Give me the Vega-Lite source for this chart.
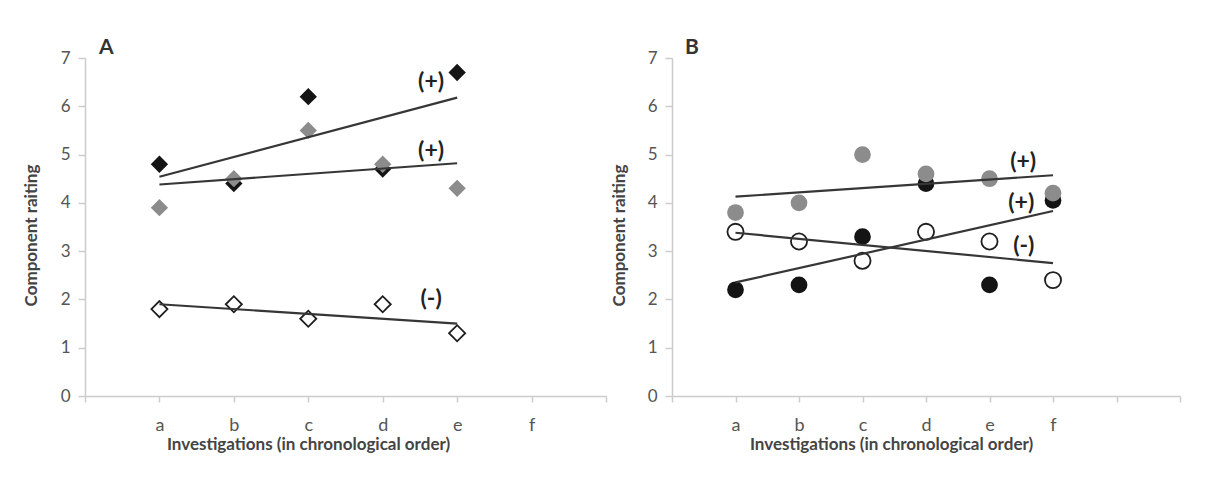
{
  "$schema": "https://vega.github.io/schema/vega-lite/v6.json",
  "background": "white",
  "padding": {"left": 22, "top": 37, "right": 5, "bottom": 5},
  "spacing": 66,
  "bounds": "flush",
  "config": {
    "font": "Lato",
    "view": {"stroke": null},
    "axis": {
      "grid": false,
      "domainColor": "#cccccc",
      "tickColor": "#cccccc",
      "domainWidth": 1.5,
      "tickWidth": 1.5,
      "labelColor": "#555555",
      "titleColor": "#444444",
      "labelFont": "Lato",
      "titleFont": "Lato"
    }
  },
  "datasets": {
    "pts": [
      {"panel": "A", "series": "black", "x": 1, "y": 4.8},
      {"panel": "A", "series": "black", "x": 2, "y": 4.4},
      {"panel": "A", "series": "black", "x": 3, "y": 6.2},
      {"panel": "A", "series": "black", "x": 4, "y": 4.7},
      {"panel": "A", "series": "black", "x": 5, "y": 6.7},
      {"panel": "A", "series": "gray", "x": 1, "y": 3.9},
      {"panel": "A", "series": "gray", "x": 2, "y": 4.5},
      {"panel": "A", "series": "gray", "x": 3, "y": 5.5},
      {"panel": "A", "series": "gray", "x": 4, "y": 4.8},
      {"panel": "A", "series": "gray", "x": 5, "y": 4.3},
      {"panel": "A", "series": "open", "x": 1, "y": 1.8},
      {"panel": "A", "series": "open", "x": 2, "y": 1.9},
      {"panel": "A", "series": "open", "x": 3, "y": 1.6},
      {"panel": "A", "series": "open", "x": 4, "y": 1.9},
      {"panel": "A", "series": "open", "x": 5, "y": 1.3},
      {"panel": "A", "series": "label", "x": 4.65, "y": 6.5, "lab": "(+)"},
      {"panel": "A", "series": "label", "x": 4.65, "y": 5.07, "lab": "(+)"},
      {"panel": "A", "series": "label", "x": 4.65, "y": 2.0, "lab": "(-)"},
      {"panel": "B", "series": "black", "x": 1, "y": 2.2},
      {"panel": "B", "series": "black", "x": 2, "y": 2.3},
      {"panel": "B", "series": "black", "x": 3, "y": 3.3},
      {"panel": "B", "series": "black", "x": 4, "y": 4.4},
      {"panel": "B", "series": "black", "x": 5, "y": 2.3},
      {"panel": "B", "series": "black", "x": 6, "y": 4.05},
      {"panel": "B", "series": "gray", "x": 1, "y": 3.8},
      {"panel": "B", "series": "gray", "x": 2, "y": 4.0},
      {"panel": "B", "series": "gray", "x": 3, "y": 5.0},
      {"panel": "B", "series": "gray", "x": 4, "y": 4.6},
      {"panel": "B", "series": "gray", "x": 5, "y": 4.5},
      {"panel": "B", "series": "gray", "x": 6, "y": 4.2},
      {"panel": "B", "series": "open", "x": 1, "y": 3.4},
      {"panel": "B", "series": "open", "x": 2, "y": 3.2},
      {"panel": "B", "series": "open", "x": 3, "y": 2.8},
      {"panel": "B", "series": "open", "x": 4, "y": 3.4},
      {"panel": "B", "series": "open", "x": 5, "y": 3.2},
      {"panel": "B", "series": "open", "x": 6, "y": 2.4},
      {"panel": "B", "series": "label", "x": 5.53, "y": 4.85, "lab": "(+)"},
      {"panel": "B", "series": "label", "x": 5.5, "y": 4.0, "lab": "(+)"},
      {"panel": "B", "series": "label", "x": 5.54, "y": 3.1, "lab": "(-)"}
    ]
  },
  "hconcat": [
    {
      "width": 521,
      "height": 338,
      "title": {"text": "A", "anchor": "start", "frame": "group", "dx": 14, "fontSize": 21, "fontWeight": "bold", "color": "#333333", "baseline": "alphabetic", "offset": -26, "font": "Lato"},
      "data": {"name": "pts"},
      "transform": [{"filter": "datum.panel == 'A'"}],
      "encoding": {
        "x": {
          "field": "x", "type": "quantitative",
          "scale": {"domain": [0, 7], "nice": false, "zero": false},
          "axis": {
            "values": [0, 1, 2, 3, 4, 5, 6, 7],
            "labelExpr": "['','a','b','c','d','e','f','',''][datum.value]",
            "labelFontSize": 18, "tickSize": 6, "labelPadding": 14,
            "title": "Investigations (in chronological order)",
            "titleFontSize": 17, "titleFontWeight": "bold",
            "titleX": 223, "titleY": 48, "titleAlign": "center", "titleBaseline": "middle"
          }
        },
        "y": {
          "field": "y", "type": "quantitative",
          "scale": {"domain": [0, 7], "nice": false, "zero": true},
          "axis": {
            "values": [0, 1, 2, 3, 4, 5, 6, 7],
            "labelFontSize": 17, "tickSize": 7, "labelPadding": 8,
            "title": "Component raiting",
            "titleFontSize": 17, "titleFontWeight": "bold",
            "titleX": -54, "titleY": 177, "titleAngle": -90, "titleAlign": "center", "titleBaseline": "middle"
          }
        }
      },
      "layer": [
        {
          "transform": [{"filter": "datum.series == 'open'"}],
          "mark": {"type": "point", "shape": "diamond", "size": 260, "filled": false, "fill": "white", "fillOpacity": 1, "stroke": "#1e1e1e", "strokeWidth": 1.8, "opacity": 1}
        },
        {
          "transform": [{"filter": "datum.series == 'black'"}],
          "mark": {"type": "point", "shape": "diamond", "size": 300, "filled": true, "color": "#141414", "opacity": 1}
        },
        {
          "transform": [{"filter": "datum.series == 'gray'"}],
          "mark": {"type": "point", "shape": "diamond", "size": 300, "filled": true, "color": "#8c8c8c", "opacity": 1}
        },
        {
          "transform": [
            {"filter": "datum.series != 'label'"},
            {"regression": "y", "on": "x", "groupby": ["series"]}
          ],
          "mark": {"type": "line", "color": "#363636", "strokeWidth": 2.2},
          "encoding": {"detail": {"field": "series"}}
        },
        {
          "transform": [{"filter": "datum.series == 'label'"}],
          "mark": {"type": "text", "fontSize": 23, "fontWeight": "bold", "color": "#222222", "font": "Lato", "align": "center", "baseline": "middle"},
          "encoding": {"text": {"field": "lab"}}
        }
      ]
    },
    {
      "width": 508,
      "height": 338,
      "title": {"text": "B", "anchor": "start", "frame": "group", "dx": 13, "fontSize": 21, "fontWeight": "bold", "color": "#333333", "baseline": "alphabetic", "offset": -26, "font": "Lato"},
      "data": {"name": "pts"},
      "transform": [{"filter": "datum.panel == 'B'"}],
      "encoding": {
        "x": {
          "field": "x", "type": "quantitative",
          "scale": {"domain": [0, 8], "nice": false, "zero": false},
          "axis": {
            "values": [0, 1, 2, 3, 4, 5, 6, 7, 8],
            "labelExpr": "['','a','b','c','d','e','f','',''][datum.value]",
            "labelFontSize": 18, "tickSize": 6, "labelPadding": 14,
            "title": "Investigations (in chronological order)",
            "titleFontSize": 17, "titleFontWeight": "bold",
            "titleX": 219, "titleY": 48, "titleAlign": "center", "titleBaseline": "middle"
          }
        },
        "y": {
          "field": "y", "type": "quantitative",
          "scale": {"domain": [0, 7], "nice": false, "zero": true},
          "axis": {
            "values": [0, 1, 2, 3, 4, 5, 6, 7],
            "labelFontSize": 17, "tickSize": 7, "labelPadding": 8,
            "title": "Component raiting",
            "titleFontSize": 17, "titleFontWeight": "bold",
            "titleX": -53, "titleY": 177, "titleAngle": -90, "titleAlign": "center", "titleBaseline": "middle"
          }
        }
      },
      "layer": [
        {
          "transform": [{"filter": "datum.series == 'open'"}],
          "mark": {"type": "point", "shape": "circle", "size": 260, "filled": false, "fill": "white", "fillOpacity": 1, "stroke": "#1e1e1e", "strokeWidth": 1.8, "opacity": 1}
        },
        {
          "transform": [{"filter": "datum.series == 'black'"}],
          "mark": {"type": "point", "shape": "circle", "size": 280, "filled": true, "color": "#141414", "opacity": 1}
        },
        {
          "transform": [{"filter": "datum.series == 'gray'"}],
          "mark": {"type": "point", "shape": "circle", "size": 280, "filled": true, "color": "#8c8c8c", "opacity": 1}
        },
        {
          "transform": [
            {"filter": "datum.series != 'label'"},
            {"regression": "y", "on": "x", "groupby": ["series"]}
          ],
          "mark": {"type": "line", "color": "#363636", "strokeWidth": 2.2},
          "encoding": {"detail": {"field": "series"}}
        },
        {
          "transform": [{"filter": "datum.series == 'label'"}],
          "mark": {"type": "text", "fontSize": 23, "fontWeight": "bold", "color": "#222222", "font": "Lato", "align": "center", "baseline": "middle"},
          "encoding": {"text": {"field": "lab"}}
        }
      ]
    }
  ]
}
